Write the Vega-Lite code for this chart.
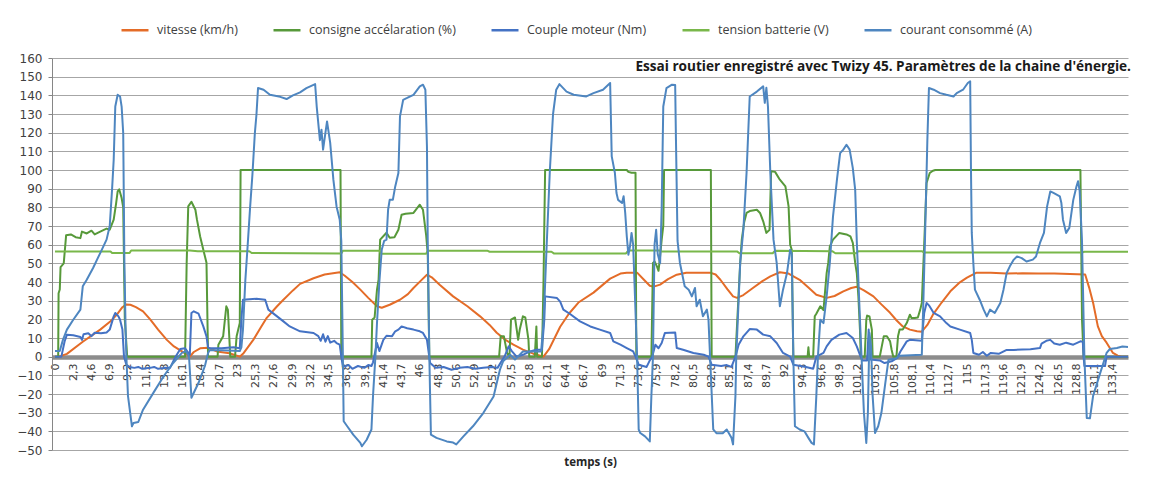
{
  "$schema": "https://vega.github.io/schema/vega-lite/v6.json",
  "width": 1076,
  "height": 392,
  "autosize": {"type": "none"},
  "padding": {"left": 52, "top": 58, "right": 22, "bottom": 29},
  "background": "white",
  "config": {"view": {"stroke": null}},
  "resolve": {"axis": {"x": "independent", "y": "independent"}},
  "datasets": {
    "vit": [
      {"t":0,"v":0},{"t":0.5,"v":0},{"t":1.5,"v":1.5},{"t":3.5,"v":8},{"t":5.7,"v":14.5},{"t":7,"v":19},{"t":7.8,"v":22.5},{"t":8.5,"v":26.5},{"t":9,"v":28},{"t":9.5,"v":27.8},{"t":10.2,"v":26.5},{"t":11.1,"v":24.3},{"t":12,"v":20},{"t":13,"v":14.5},{"t":14.1,"v":9},{"t":15,"v":5.5},{"t":15.8,"v":3.4},{"t":16.5,"v":1.5},{"t":17,"v":0},{"t":17.5,"v":2.5},{"t":18.3,"v":4.5},{"t":19.3,"v":4.8},{"t":20.4,"v":2.8},{"t":22,"v":1.8},{"t":23.3,"v":0},{"t":23.8,"v":2},{"t":25,"v":9},{"t":26,"v":16},{"t":26.7,"v":20.8},{"t":28,"v":27},{"t":28.8,"v":30.5},{"t":30,"v":35.5},{"t":30.9,"v":39},{"t":32.6,"v":42},{"t":34,"v":44},{"t":35.9,"v":45.2},{"t":36.5,"v":43.5},{"t":37.5,"v":40},{"t":38.5,"v":35.9},{"t":39.5,"v":31.5},{"t":40.6,"v":27},{"t":41.2,"v":26.2},{"t":42.2,"v":27.8},{"t":43.5,"v":30.5},{"t":44.5,"v":33.5},{"t":45.2,"v":36.8},{"t":46.2,"v":41},{"t":46.9,"v":43.9},{"t":47.5,"v":42.5},{"t":48.5,"v":38.5},{"t":50.2,"v":32.3},{"t":52,"v":27},{"t":53.6,"v":21.6},{"t":54.8,"v":17},{"t":55.7,"v":12.8},{"t":56.8,"v":9},{"t":57.8,"v":6.4},{"t":59,"v":3.8},{"t":60.3,"v":1.6},{"t":61.6,"v":0},{"t":62.3,"v":4},{"t":63.7,"v":16},{"t":64.8,"v":23},{"t":66,"v":29},{"t":67.9,"v":34.3},{"t":70,"v":41.8},{"t":71.3,"v":44.5},{"t":72.1,"v":45},{"t":73.4,"v":45},{"t":74.2,"v":41.5},{"t":75,"v":38},{"t":75.5,"v":37.5},{"t":76.3,"v":38.6},{"t":77.3,"v":41.5},{"t":78.4,"v":43.9},{"t":79.6,"v":45},{"t":82.6,"v":45},{"t":83.3,"v":44},{"t":83.9,"v":41.2},{"t":84.8,"v":36},{"t":85.5,"v":32.3},{"t":86,"v":31.5},{"t":86.8,"v":33},{"t":88,"v":36.8},{"t":89.2,"v":40.5},{"t":90.2,"v":43},{"t":91.4,"v":45.2},{"t":92.5,"v":44.5},{"t":93.9,"v":41.2},{"t":95,"v":37},{"t":96,"v":33.2},{"t":97.3,"v":31.5},{"t":98.3,"v":32.5},{"t":99.4,"v":35},{"t":100.4,"v":36.8},{"t":101.1,"v":37.5},{"t":102,"v":35.5},{"t":103.2,"v":32.3},{"t":104.2,"v":28},{"t":105.3,"v":23.5},{"t":106.1,"v":19.5},{"t":106.9,"v":16.2},{"t":107.8,"v":14.5},{"t":108.7,"v":13.6},{"t":109.3,"v":13.4},{"t":110,"v":17},{"t":110.7,"v":22.5},{"t":111.8,"v":29},{"t":112.9,"v":35},{"t":114,"v":39.5},{"t":115,"v":42.3},{"t":116.2,"v":45},{"t":118,"v":45},{"t":120,"v":44.5},{"t":122,"v":44.7},{"t":124,"v":44.5},{"t":126,"v":44.5},{"t":128,"v":44.3},{"t":129.9,"v":44},{"t":130.4,"v":37},{"t":130.9,"v":28.9},{"t":131.5,"v":16.2},{"t":132,"v":11},{"t":132.6,"v":7.5},{"t":133.4,"v":2},{"t":134,"v":0.5},{"t":134.5,"v":0},{"t":135.3,"v":0}
    ],
    "cons": [
      {"t":0,"v":0},{"t":0.4,"v":0},{"t":0.45,"v":34},{"t":0.6,"v":36},{"t":0.7,"v":48},{"t":1.1,"v":50},{"t":1.4,"v":65},{"t":2,"v":65.5},{"t":2.6,"v":64},{"t":3.2,"v":63.5},{"t":3.4,"v":67},{"t":4,"v":66},{"t":4.6,"v":67.5},{"t":5,"v":65.5},{"t":5.7,"v":67},{"t":6.5,"v":68.6},{"t":6.9,"v":68},{"t":7.4,"v":73.4},{"t":7.7,"v":82},{"t":7.9,"v":88.5},{"t":8.1,"v":89.6},{"t":8.4,"v":85},{"t":8.6,"v":80},{"t":8.8,"v":20},{"t":9.1,"v":0},{"t":16.4,"v":0},{"t":16.6,"v":50},{"t":16.8,"v":80.5},{"t":17.2,"v":83},{"t":17.7,"v":78.7},{"t":17.9,"v":73.4},{"t":18.3,"v":64.4},{"t":18.7,"v":57.3},{"t":19.1,"v":50.3},{"t":19.3,"v":0},{"t":20.5,"v":0},{"t":20.6,"v":6.4},{"t":21.2,"v":10.9},{"t":21.6,"v":27},{"t":21.8,"v":25},{"t":22.1,"v":0},{"t":22.7,"v":0},{"t":22.9,"v":10.9},{"t":23.3,"v":18},{"t":23.4,"v":100},{"t":36,"v":100},{"t":36.1,"v":0},{"t":39.9,"v":0},{"t":40,"v":19.8},{"t":40.3,"v":21},{"t":40.6,"v":35.9},{"t":40.8,"v":41.2},{"t":41,"v":62.7},{"t":41.8,"v":66.4},{"t":42.2,"v":63.7},{"t":42.8,"v":64},{"t":43.3,"v":68},{"t":43.7,"v":76},{"t":44.2,"v":76.6},{"t":45.2,"v":77},{"t":46,"v":81.4},{"t":46.4,"v":78.7},{"t":46.8,"v":65},{"t":47,"v":55},{"t":47.2,"v":0},{"t":56,"v":0},{"t":56.2,"v":10.9},{"t":56.6,"v":11},{"t":57,"v":2},{"t":57.3,"v":0},{"t":57.5,"v":19.8},{"t":58,"v":21},{"t":58.4,"v":9},{"t":58.6,"v":14.5},{"t":59,"v":21.6},{"t":59.3,"v":21},{"t":59.7,"v":9},{"t":59.8,"v":0},{"t":60.5,"v":0},{"t":60.7,"v":16.2},{"t":60.8,"v":0},{"t":61.4,"v":0},{"t":61.6,"v":41},{"t":61.8,"v":100},{"t":72.1,"v":100},{"t":72.3,"v":99},{"t":72.7,"v":98.5},{"t":73.2,"v":98.5},{"t":73.3,"v":0},{"t":75.2,"v":0},{"t":75.4,"v":50.2},{"t":75.6,"v":51},{"t":75.9,"v":48.4},{"t":76.1,"v":46},{"t":76.3,"v":53.7},{"t":76.5,"v":62.7},{"t":76.7,"v":70},{"t":76.8,"v":100},{"t":82.7,"v":100},{"t":82.8,"v":0},{"t":85.8,"v":0},{"t":86.4,"v":50.3},{"t":86.6,"v":62.7},{"t":86.9,"v":72},{"t":87.2,"v":77},{"t":87.6,"v":78},{"t":88.5,"v":78.7},{"t":88.9,"v":77},{"t":89.3,"v":72.5},{"t":89.7,"v":66.3},{"t":90.1,"v":68},{"t":90.3,"v":99.3},{"t":90.8,"v":99},{"t":91.4,"v":94.8},{"t":92.1,"v":91.2},{"t":92.5,"v":80.5},{"t":92.7,"v":60},{"t":92.9,"v":57.3},{"t":93.1,"v":0},{"t":94.9,"v":0},{"t":95,"v":5},{"t":95.1,"v":0},{"t":95.6,"v":0},{"t":95.8,"v":21.6},{"t":96,"v":23},{"t":96.5,"v":27},{"t":96.9,"v":25},{"t":97.3,"v":44.8},{"t":97.5,"v":50.2},{"t":97.7,"v":59},{"t":98.1,"v":62.7},{"t":98.9,"v":66.3},{"t":99.8,"v":65.5},{"t":100.3,"v":64.4},{"t":100.6,"v":61},{"t":100.9,"v":50.2},{"t":101.1,"v":44.8},{"t":101.3,"v":32.3},{"t":101.5,"v":14.5},{"t":101.6,"v":0},{"t":102.1,"v":0},{"t":102.3,"v":19.8},{"t":102.4,"v":22},{"t":102.7,"v":21.5},{"t":103,"v":14.5},{"t":103.1,"v":0},{"t":104,"v":0},{"t":104.5,"v":10.9},{"t":104.9,"v":10.9},{"t":105.3,"v":8.2},{"t":105.5,"v":3.6},{"t":105.7,"v":0},{"t":106.1,"v":0},{"t":106.3,"v":10.9},{"t":106.5,"v":14.5},{"t":106.9,"v":14.5},{"t":107.4,"v":18},{"t":107.8,"v":22.5},{"t":108,"v":20.7},{"t":108.4,"v":20.7},{"t":108.8,"v":21},{"t":109.1,"v":25.2},{"t":109.3,"v":28.8},{"t":109.6,"v":60},{"t":109.9,"v":93},{"t":110.3,"v":98.4},{"t":110.7,"v":99.6},{"t":111,"v":100},{"t":129.3,"v":100},{"t":129.5,"v":20},{"t":129.7,"v":0},{"t":135.3,"v":0}
    ],
    "coup": [
      {"t":0,"v":0},{"t":0.8,"v":0},{"t":1.2,"v":8},{"t":1.5,"v":11.8},{"t":2.3,"v":11.5},{"t":3.2,"v":10.5},{"t":3.4,"v":9},{"t":3.6,"v":12},{"t":4.2,"v":12.5},{"t":4.6,"v":11},{"t":5,"v":12.8},{"t":5.8,"v":12.5},{"t":6.5,"v":13},{"t":6.9,"v":14.5},{"t":7.4,"v":21.6},{"t":7.6,"v":23.4},{"t":8,"v":21.6},{"t":8.2,"v":19.8},{"t":8.5,"v":14.5},{"t":8.7,"v":0},{"t":9,"v":-4.3},{"t":9.4,"v":-5.5},{"t":10,"v":-6},{"t":10.5,"v":-5.5},{"t":11,"v":-6.5},{"t":12,"v":-6},{"t":12.5,"v":-5.5},{"t":13,"v":-6.5},{"t":14,"v":-6},{"t":14.5,"v":-6},{"t":15.2,"v":0},{"t":15.8,"v":4.1},{"t":16.4,"v":4.5},{"t":17,"v":1},{"t":17.2,"v":23.4},{"t":17.5,"v":24.3},{"t":18.1,"v":23},{"t":18.7,"v":16.2},{"t":19.1,"v":10.9},{"t":19.3,"v":5},{"t":19.5,"v":4.5},{"t":21,"v":4.5},{"t":22.5,"v":5},{"t":23.3,"v":4.5},{"t":23.5,"v":20},{"t":23.7,"v":30.5},{"t":25.4,"v":31},{"t":26.5,"v":30.5},{"t":26.9,"v":25.2},{"t":28,"v":21.6},{"t":28.8,"v":18.9},{"t":29.6,"v":16.2},{"t":30.9,"v":13.6},{"t":32.6,"v":12.7},{"t":33.2,"v":11},{"t":33.5,"v":8.5},{"t":33.8,"v":12},{"t":34.1,"v":8},{"t":34.4,"v":11},{"t":34.7,"v":7.5},{"t":35.2,"v":8.5},{"t":35.5,"v":7.3},{"t":35.9,"v":6.4},{"t":36.1,"v":0},{"t":36.3,"v":-5.5},{"t":37,"v":-4.5},{"t":37.5,"v":-6.5},{"t":38.2,"v":-5},{"t":39,"v":-6},{"t":39.5,"v":-4.5},{"t":39.9,"v":-5},{"t":40.1,"v":-3},{"t":40.6,"v":7.3},{"t":40.9,"v":3},{"t":41.4,"v":9},{"t":41.8,"v":11.2},{"t":42.5,"v":11},{"t":42.9,"v":13.6},{"t":43.3,"v":14.5},{"t":43.7,"v":16.2},{"t":44.4,"v":15.2},{"t":45.2,"v":14.5},{"t":46,"v":13.6},{"t":46.4,"v":12.7},{"t":46.9,"v":9},{"t":47.3,"v":-3.4},{"t":48,"v":-6},{"t":49,"v":-5.5},{"t":50,"v":-7},{"t":51,"v":-6},{"t":52,"v":-5.5},{"t":53,"v":-6.5},{"t":54,"v":-6},{"t":55,"v":-5.5},{"t":55.8,"v":-6},{"t":56.3,"v":-2.5},{"t":56.7,"v":0.2},{"t":57.2,"v":5.5},{"t":57.6,"v":3},{"t":58.2,"v":0},{"t":59,"v":1},{"t":59.9,"v":2.8},{"t":60.7,"v":3.7},{"t":61.4,"v":3.7},{"t":61.7,"v":20},{"t":61.8,"v":32.3},{"t":63.3,"v":31.4},{"t":63.7,"v":29.5},{"t":64.1,"v":25.2},{"t":64.9,"v":23},{"t":66.2,"v":18.9},{"t":67.5,"v":16.2},{"t":68.7,"v":14.5},{"t":70,"v":12.7},{"t":70.4,"v":8.2},{"t":71.3,"v":6.4},{"t":72.1,"v":4.6},{"t":72.9,"v":2.8},{"t":73.2,"v":0},{"t":73.6,"v":-4.3},{"t":74.6,"v":-5.5},{"t":75,"v":-2},{"t":75.3,"v":0},{"t":75.7,"v":6.4},{"t":76.1,"v":4.5},{"t":76.5,"v":7.3},{"t":76.9,"v":12.7},{"t":78.2,"v":13},{"t":78.4,"v":4.6},{"t":79.2,"v":3.7},{"t":80.5,"v":2},{"t":81.8,"v":1},{"t":82.4,"v":0},{"t":82.8,"v":-4.3},{"t":84,"v":-5},{"t":84.7,"v":-4.5},{"t":85.3,"v":-5.5},{"t":85.8,"v":0},{"t":86.2,"v":6.4},{"t":86.8,"v":10.9},{"t":87.6,"v":14.8},{"t":88.5,"v":14.5},{"t":89.3,"v":11.8},{"t":90.2,"v":10.9},{"t":91,"v":7.3},{"t":91.8,"v":2},{"t":92.7,"v":0},{"t":93.1,"v":-4.3},{"t":94.7,"v":-5.5},{"t":95.6,"v":-6.5},{"t":96,"v":0},{"t":96.9,"v":2},{"t":97.3,"v":5.5},{"t":97.9,"v":9},{"t":98.9,"v":11.8},{"t":99.8,"v":12.7},{"t":100.6,"v":10},{"t":101.1,"v":5.5},{"t":101.5,"v":1},{"t":101.8,"v":-2},{"t":102.4,"v":-2},{"t":102.6,"v":14.5},{"t":102.8,"v":-1.5},{"t":104,"v":-2},{"t":104.6,"v":-3.4},{"t":105.5,"v":-2.5},{"t":106.2,"v":-0.7},{"t":106.6,"v":2.8},{"t":107.4,"v":8.2},{"t":107.8,"v":9},{"t":109.3,"v":8.5},{"t":109.6,"v":23.4},{"t":109.9,"v":28.8},{"t":110.2,"v":27.5},{"t":110.8,"v":23.4},{"t":111.6,"v":21.6},{"t":112.4,"v":18},{"t":112.9,"v":16.2},{"t":114.1,"v":14.5},{"t":115.4,"v":12.7},{"t":115.6,"v":9},{"t":115.8,"v":2},{"t":116.5,"v":1},{"t":117,"v":2.5},{"t":117.5,"v":0.5},{"t":118,"v":2},{"t":119,"v":1.5},{"t":120,"v":3.6},{"t":120.9,"v":3.6},{"t":122,"v":3.8},{"t":123,"v":4},{"t":124.2,"v":4.6},{"t":124.4,"v":7},{"t":125,"v":8.5},{"t":125.5,"v":9},{"t":126,"v":7},{"t":126.7,"v":6.4},{"t":127.5,"v":7.5},{"t":128.4,"v":6.4},{"t":129.3,"v":8.2},{"t":129.6,"v":8},{"t":129.7,"v":0},{"t":129.8,"v":-5},{"t":132.4,"v":-5},{"t":132.6,"v":0},{"t":135.3,"v":0}
    ],
    "tens": [
      {"t":0,"v":56.3},{"t":7,"v":56.3},{"t":7.2,"v":55.5},{"t":9.4,"v":55.5},{"t":9.6,"v":56.9},{"t":17,"v":56.9},{"t":18,"v":56.5},{"t":24.5,"v":56.5},{"t":24.8,"v":55.5},{"t":36.1,"v":55.3},{"t":36.3,"v":56.8},{"t":40.9,"v":56.8},{"t":41.1,"v":55.2},{"t":46.8,"v":55.2},{"t":47,"v":56.8},{"t":54.5,"v":56.8},{"t":54.8,"v":56.2},{"t":62.6,"v":56.2},{"t":62.9,"v":55.3},{"t":72,"v":55.3},{"t":72.3,"v":56.9},{"t":76.2,"v":56.9},{"t":76.5,"v":56.4},{"t":86,"v":56.4},{"t":86.3,"v":55.4},{"t":90.5,"v":55.4},{"t":90.8,"v":56.8},{"t":98,"v":56.5},{"t":98.4,"v":55.4},{"t":101,"v":55.4},{"t":101.3,"v":56.5},{"t":109.3,"v":56.5},{"t":109.6,"v":55.8},{"t":129.5,"v":55.8},{"t":129.8,"v":56.2},{"t":135.3,"v":56.2}
    ],
    "cour": [
      {"t":0,"v":3},{"t":0.6,"v":3},{"t":1,"v":9},{"t":1.5,"v":14.5},{"t":2.3,"v":19.8},{"t":3.2,"v":25.2},{"t":3.5,"v":37.7},{"t":4,"v":41.2},{"t":4.8,"v":47.5},{"t":5.3,"v":52},{"t":5.7,"v":55.5},{"t":6.5,"v":62.7},{"t":6.9,"v":70},{"t":7.2,"v":90},{"t":7.4,"v":105.5},{"t":7.6,"v":134},{"t":7.9,"v":140.3},{"t":8.2,"v":139.4},{"t":8.4,"v":134},{"t":8.6,"v":119.8},{"t":8.75,"v":50},{"t":8.9,"v":14.5},{"t":9,"v":0},{"t":9.2,"v":-21},{"t":9.7,"v":-37.3},{"t":9.9,"v":-35.5},{"t":10.5,"v":-35},{"t":11.1,"v":-28.4},{"t":12.4,"v":-19.4},{"t":13.7,"v":-10.5},{"t":14.9,"v":-3.4},{"t":16,"v":2},{"t":16.5,"v":3},{"t":16.9,"v":0},{"t":17.2,"v":-22},{"t":18.1,"v":-14},{"t":18.9,"v":-5},{"t":19.3,"v":2},{"t":19.5,"v":3.5},{"t":21,"v":3.5},{"t":23.3,"v":3},{"t":23.5,"v":5},{"t":23.7,"v":14.5},{"t":24,"v":41},{"t":24.3,"v":60},{"t":24.6,"v":80},{"t":24.9,"v":98},{"t":25.2,"v":119.8},{"t":25.4,"v":129.6},{"t":25.6,"v":143.9},{"t":26.3,"v":143},{"t":27.1,"v":140.3},{"t":28.4,"v":139.2},{"t":29.2,"v":138},{"t":30,"v":140},{"t":30.9,"v":141.6},{"t":31.7,"v":143.9},{"t":32.8,"v":146},{"t":33,"v":134},{"t":33.4,"v":116},{"t":33.6,"v":121.6},{"t":33.8,"v":110.9},{"t":34.3,"v":126},{"t":34.7,"v":114.5},{"t":35.1,"v":94.8},{"t":35.5,"v":80.5},{"t":35.9,"v":73.4},{"t":36.1,"v":62},{"t":36.3,"v":0},{"t":36.4,"v":-34.6},{"t":36.8,"v":-37},{"t":37.6,"v":-41.8},{"t":38.5,"v":-46.2},{"t":38.7,"v":-48},{"t":39.3,"v":-44.5},{"t":39.9,"v":-39},{"t":40.1,"v":-21},{"t":40.4,"v":0},{"t":40.6,"v":18},{"t":40.9,"v":40},{"t":41.2,"v":57.3},{"t":41.5,"v":62},{"t":41.8,"v":62.7},{"t":42,"v":78.7},{"t":42.2,"v":84},{"t":42.6,"v":84},{"t":42.9,"v":91.2},{"t":43.3,"v":98.4},{"t":43.5,"v":128.7},{"t":43.9,"v":137.6},{"t":44.4,"v":138.6},{"t":45.2,"v":140.3},{"t":46,"v":144.8},{"t":46.4,"v":145.7},{"t":46.7,"v":143},{"t":46.9,"v":112.6},{"t":47,"v":62},{"t":47.2,"v":0},{"t":47.4,"v":-41.8},{"t":48.1,"v":-43.5},{"t":49.4,"v":-45.4},{"t":50.2,"v":-46},{"t":50.6,"v":-47},{"t":51.5,"v":-42.7},{"t":52.7,"v":-37.3},{"t":54,"v":-30.2},{"t":55.3,"v":-21.3},{"t":56.1,"v":-7},{"t":56.5,"v":-2.5},{"t":57.4,"v":1},{"t":58,"v":-1.6},{"t":59,"v":2.8},{"t":61.3,"v":2.8},{"t":61.6,"v":18},{"t":62,"v":60},{"t":62.4,"v":100},{"t":62.8,"v":130},{"t":63.2,"v":143},{"t":63.6,"v":146},{"t":64.5,"v":142},{"t":65.4,"v":140.3},{"t":67,"v":139.4},{"t":67.9,"v":141.2},{"t":69.1,"v":143},{"t":70,"v":146.6},{"t":70.2,"v":107.3},{"t":70.6,"v":98.4},{"t":70.8,"v":87.7},{"t":71,"v":84},{"t":71.5,"v":82.3},{"t":71.7,"v":85.9},{"t":71.9,"v":77},{"t":72.1,"v":64.4},{"t":72.3,"v":54.6},{"t":72.5,"v":59},{"t":72.7,"v":66.3},{"t":72.9,"v":60},{"t":73.4,"v":0},{"t":73.6,"v":-39},{"t":73.8,"v":-40.9},{"t":74.4,"v":-42.7},{"t":75,"v":-45.4},{"t":75.2,"v":-21},{"t":75.4,"v":0},{"t":75.6,"v":60},{"t":75.8,"v":68},{"t":76,"v":55},{"t":76.3,"v":50},{"t":76.5,"v":80},{"t":76.7,"v":134},{"t":77.1,"v":143.9},{"t":77.8,"v":145.7},{"t":78.2,"v":145.5},{"t":78.3,"v":116},{"t":78.5,"v":62},{"t":78.8,"v":50.2},{"t":79.4,"v":37.7},{"t":79.9,"v":35.9},{"t":80.3,"v":32.3},{"t":80.7,"v":36.8},{"t":80.9,"v":27},{"t":81.3,"v":30.5},{"t":81.7,"v":21.6},{"t":82.2,"v":25.2},{"t":82.4,"v":19.8},{"t":82.6,"v":0},{"t":83,"v":-39},{"t":83.4,"v":-41},{"t":84.2,"v":-41},{"t":84.7,"v":-39},{"t":85.3,"v":-43.5},{"t":85.5,"v":-47},{"t":85.8,"v":-21},{"t":85.9,"v":0},{"t":86.4,"v":50.2},{"t":86.8,"v":68},{"t":87.2,"v":98.4},{"t":87.6,"v":139.4},{"t":88.5,"v":142},{"t":89.3,"v":144.8},{"t":89.5,"v":136},{"t":89.7,"v":144},{"t":89.9,"v":134},{"t":90.2,"v":98.4},{"t":90.6,"v":62.7},{"t":91,"v":50.2},{"t":91.4,"v":27},{"t":91.8,"v":35.9},{"t":92.3,"v":44.8},{"t":92.7,"v":57.3},{"t":92.9,"v":55},{"t":93.1,"v":0},{"t":93.3,"v":-37.3},{"t":93.9,"v":-39},{"t":94.5,"v":-40},{"t":95,"v":-43.5},{"t":95.4,"v":-46.2},{"t":95.7,"v":-47},{"t":96,"v":-21},{"t":96.2,"v":0},{"t":96.5,"v":19.8},{"t":96.9,"v":18},{"t":97.3,"v":32.3},{"t":97.7,"v":50.2},{"t":98.1,"v":75},{"t":98.6,"v":94.8},{"t":99,"v":109},{"t":99.4,"v":110.9},{"t":99.8,"v":113.5},{"t":100.2,"v":110.9},{"t":100.6,"v":101},{"t":100.9,"v":89.4},{"t":101.1,"v":62},{"t":101.5,"v":20},{"t":101.8,"v":-10},{"t":102,"v":-30},{"t":102.3,"v":-46.2},{"t":102.5,"v":-30},{"t":102.7,"v":12.7},{"t":102.9,"v":5.5},{"t":103.1,"v":-21},{"t":103.4,"v":-40.9},{"t":103.8,"v":-37.3},{"t":104.2,"v":-30.2},{"t":104.7,"v":-14},{"t":105.1,"v":-1.6},{"t":106,"v":-1},{"t":106.5,"v":0.5},{"t":109.3,"v":1},{"t":109.5,"v":30},{"t":109.7,"v":62.7},{"t":110,"v":116},{"t":110.2,"v":143.9},{"t":110.8,"v":143},{"t":111.6,"v":141.2},{"t":112.4,"v":140.3},{"t":113.3,"v":139.4},{"t":113.7,"v":141.2},{"t":114.5,"v":143},{"t":115.1,"v":146.6},{"t":115.4,"v":147.5},{"t":115.5,"v":100},{"t":115.6,"v":66.3},{"t":115.8,"v":50},{"t":116,"v":35.9},{"t":116.6,"v":30.5},{"t":117.1,"v":25.2},{"t":117.5,"v":21.6},{"t":117.9,"v":25.2},{"t":118.5,"v":23.4},{"t":119.2,"v":28.8},{"t":119.6,"v":35.9},{"t":120,"v":44.8},{"t":120.4,"v":48.4},{"t":120.9,"v":52},{"t":121.3,"v":53.7},{"t":121.9,"v":52.8},{"t":122.5,"v":51},{"t":123.3,"v":52},{"t":123.7,"v":53.7},{"t":124.2,"v":60.9},{"t":124.7,"v":66.3},{"t":125.1,"v":80.5},{"t":125.5,"v":88.5},{"t":125.9,"v":87.7},{"t":126.7,"v":85.9},{"t":126.9,"v":82.3},{"t":127.1,"v":73.4},{"t":127.5,"v":66.3},{"t":127.9,"v":69},{"t":128.4,"v":84},{"t":128.8,"v":91.2},{"t":129,"v":94},{"t":129.2,"v":89},{"t":129.5,"v":62},{"t":129.8,"v":0},{"t":130.1,"v":-32.8},{"t":130.5,"v":-33},{"t":130.9,"v":-21},{"t":131.8,"v":-8.7},{"t":132.6,"v":2},{"t":133,"v":4.1},{"t":133.9,"v":4.6},{"t":134.6,"v":5.4},{"t":135.3,"v":5.2}
    ]
  },
  "layer": [
    {
      "data": {"name": "vit"},
      "mark": {"type": "line", "strokeWidth": 2, "strokeJoin": "round"},
      "encoding": {
        "x": {
          "field": "t",
          "type": "quantitative",
          "scale": {"domain": [-0.38, 135.3], "nice": false, "zero": false},
          "axis": {
            "values": [0,2.3,4.6,6.9,9.2,11.5,13.8,16.1,18.4,20.7,23,25.3,27.6,29.9,32.2,34.5,36.8,39.1,41.4,43.7,46,48.3,50.6,52.9,55.2,57.5,59.8,62.1,64.4,66.7,69,71.3,73.6,75.9,78.2,80.5,82.8,85.1,87.4,89.7,92,94.3,96.6,98.9,101.2,103.5,105.8,108.1,110.4,112.7,115,117.3,119.6,121.9,124.2,126.5,128.8,131.1,133.4],
            "labelExpr": "replace(format(datum.value, '.1~f'), '.', ',')",
            "offset": -93,
            "grid": false,
            "ticks": false,
            "domainColor": "#8C8C8C",
            "domainWidth": 4.5,
            "labelAngle": -90,
            "labelPadding": 6,
            "labelFont": "DejaVu Sans",
            "labelFontSize": 11,
            "labelColor": "#404040",
            "labelOverlap": false,
            "labelFlush": false,
            "title": "temps (s)",
            "titleFont": "Open Sans",
            "titleFontWeight": "bold",
            "titleFontSize": 11.5,
            "titleColor": "#262626",
            "titleY": 105,
            "titleBaseline": "middle"
          }
        },
        "y": {
          "field": "v",
          "type": "quantitative",
          "scale": {"domain": [-50, 160], "nice": false, "zero": false},
          "axis": {
            "values": [-50,-40,-30,-20,-10,0,10,20,30,40,50,60,70,80,90,100,110,120,130,140,150,160],
            "labelOverlap": false,
            "title": null,
            "grid": true,
            "gridColor": "#A6A6A6",
            "gridWidth": 1,
            "domainColor": "#868686",
            "tickColor": "#868686",
            "tickSize": 4,
            "labelPadding": 6,
            "labelFont": "DejaVu Sans",
            "labelFontSize": 12,
            "labelColor": "#404040"
          }
        },
        "color": {
          "datum": "vitesse (km/h)",
          "scale": {
            "domain": ["vitesse (km/h)", "consigne accélaration (%)", "Couple moteur (Nm)", "tension batterie (V)", "courant consommé (A)"],
            "range": ["#E46C28", "#57993A", "#4472C4", "#79B74A", "#4E86C0"]
          },
          "legend": {
            "title": null,
            "orient": "none",
            "legendX": 68,
            "legendY": -43,
            "direction": "horizontal",
            "symbolType": "stroke",
            "symbolSize": 729,
            "symbolStrokeWidth": 2.5,
            "labelFont": "Open Sans",
            "labelFontSize": 12.5,
            "labelColor": "#404040",
            "labelOffset": 7,
            "columnPadding": 30,
            "labelLimit": 300
          }
        }
      }
    },
    {
      "data": {"name": "cons"},
      "mark": {"type": "line", "strokeWidth": 2, "strokeJoin": "round"},
      "encoding": {"x": {"field": "t", "type": "quantitative", "axis": null}, "y": {"field": "v", "type": "quantitative", "axis": null}, "color": {"datum": "consigne accélaration (%)"}}
    },
    {
      "data": {"name": "coup"},
      "mark": {"type": "line", "strokeWidth": 2, "strokeJoin": "round"},
      "encoding": {"x": {"field": "t", "type": "quantitative", "axis": null}, "y": {"field": "v", "type": "quantitative", "axis": null}, "color": {"datum": "Couple moteur (Nm)"}}
    },
    {
      "data": {"name": "tens"},
      "mark": {"type": "line", "strokeWidth": 2, "strokeJoin": "round"},
      "encoding": {"x": {"field": "t", "type": "quantitative", "axis": null}, "y": {"field": "v", "type": "quantitative", "axis": null}, "color": {"datum": "tension batterie (V)"}}
    },
    {
      "data": {"name": "cour"},
      "mark": {"type": "line", "strokeWidth": 2, "strokeJoin": "round"},
      "encoding": {"x": {"field": "t", "type": "quantitative", "axis": null}, "y": {"field": "v", "type": "quantitative", "axis": null}, "color": {"datum": "courant consommé (A)"}}
    },
    {
      "data": {"values": [{"label": "Essai routier enregistré avec Twizy 45. Paramètres de la chaine d'énergie."}]},
      "mark": {"type": "text", "align": "right", "baseline": "middle", "dx": 3, "font": "Open Sans", "fontWeight": "bold", "fontSize": 13.6, "fill": "#1A1A1A"},
      "encoding": {
        "x": {"datum": 135.3, "type": "quantitative", "axis": null},
        "y": {"datum": 155.2, "type": "quantitative", "axis": null},
        "text": {"field": "label", "type": "nominal"}
      }
    }
  ]
}
